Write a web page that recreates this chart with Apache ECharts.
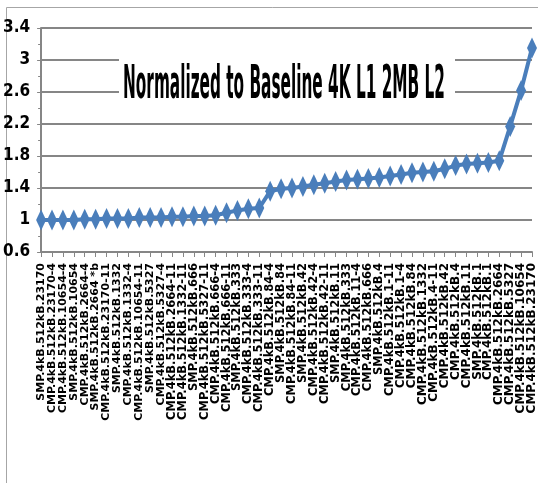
<!DOCTYPE html>
<html>
<head>
<meta charset="utf-8">
<script src="https://cdn.jsdelivr.net/npm/echarts@6/dist/echarts.min.js"></script>
<style>
  html, body { margin: 0; padding: 0; background: #fff; }
  #chart { width: 538px; height: 483px; }
</style>
</head>
<body>
<div id="chart"></div>
<script>
// configurations, left to right, sorted by normalized result
const categories = [
  'SMP.4kB.512kB.23170', 'CMP.4kB.512kB.23170-4', 'CMP.4kB.512kB.10654-4', 'SMP.4kB.512kB.10654',
  'CMP.4kB.512kB.2664-4', 'SMP.4kB.512kB.2664 *b', 'CMP.4kB.512kB.23170-11', 'SMP.4kB.512kB.1332',
  'CMP.4kB.512kB.1332-4', 'CMP.4kB.512kB.10654-11', 'SMP.4kB.512kB.5327', 'CMP.4kB.512kB.5327-4',
  'CMP.4kB.512kB.2664-11', 'CMP.4kB.512kB.1332-11', 'SMP.4kB.512kB.666', 'CMP.4kB.512kB.5327-11',
  'CMP.4kB.512kB.666-4', 'CMP.4kB.512kB.666-11', 'SMP.4kB.512kB.333', 'CMP.4kB.512kB.333-4',
  'CMP.4kB.512kB.333-11', 'CMP.4kB.512kB.84-4', 'SMP.4kB.512kB.84', 'CMP.4kB.512kB.84-11',
  'SMP.4kB.512kB.42', 'CMP.4kB.512kB.42-4', 'CMP.4kB.512kB.42-11', 'SMP.4kB.512kB.11',
  'CMP.4kB.512kB.333', 'CMP.4kB.512kB.11-4', 'CMP.4kB.512kB.666', 'SMP.4kB.512kB.4',
  'CMP.4kB.512kB.1-11', 'CMP.4kB.512kB.1-4', 'CMP.4kB.512kB.84', 'CMP.4kB.512kB.1332',
  'CMP.4kB.512kB.4-11', 'CMP.4kB.512kB.42', 'CMP.4kB.512kB.4', 'CMP.4kB.512kB.11',
  'SMP.4kB.512kB.1', 'CMP.4kB.512kB.1', 'CMP.4kB.512kB.2664', 'CMP.4kB.512kB.5327',
  'CMP.4kB.512kB.10654', 'CMP.4kB.512kB.23170'
]

const normalized = [
  1.00, 1.00, 1.00, 1.00, 1.01, 1.01, 1.02, 1.02, 1.02, 1.03,
  1.03, 1.03, 1.04, 1.04, 1.05, 1.05, 1.06, 1.09, 1.12, 1.14,
  1.15, 1.36, 1.39, 1.40, 1.42, 1.44, 1.46, 1.48, 1.50, 1.51,
  1.52, 1.53, 1.55, 1.57, 1.59, 1.60, 1.61, 1.64, 1.68, 1.70,
  1.71, 1.72, 1.74, 2.17, 2.62, 3.15
]

const yMin = 0.6
const yMax = 3.4
const yStep = 0.4

const titleText = 'Normalized to Baseline 4K L1 2MB L2'
const titleFont = 'bold 46px "Liberation Sans Narrow", "DejaVu Sans Condensed", sans-serif'

// the picture is squashed sideways, so the title is squeezed to its width
function squeeze(text, font, width) {
  const ctx = document.createElement('canvas').getContext('2d')
  ctx.font = font
  return width / ctx.measureText(text).width
}

// in the original the rotated labels get a little longer towards the right
const labelRich = {}
categories.forEach((c, i) => {
  labelRich['s' + i] = {
    fontFamily: 'DejaVu Sans',
    fontWeight: 'bold',
    fontSize: 11 + Math.round(i / (categories.length - 1) * 2) / 2,
    color: '#000'
  }
})

const chart = echarts.init(document.getElementById('chart'))

chart.setOption({
  animation: false,
  backgroundColor: '#fff',
  grid: { left: 36, top: 28, right: 3, bottom: 231, containLabel: false },
  xAxis: {
    type: 'category',
    data: categories,
    boundaryGap: false,
    axisLine: { lineStyle: { color: '#868686', width: 2 } },
    axisTick: { show: true, length: 5, interval: 0, lineStyle: { color: '#868686' } },
    axisLabel: {
      interval: 0,
      rotate: 90,
      margin: 11,
      color: '#000',
      fontFamily: 'DejaVu Sans',
      fontWeight: 'bold',
      fontSize: 11,
      formatter: (v, i) => '{s' + i + '|' + v + '}',
      rich: labelRich
    }
  },
  yAxis: {
    type: 'value',
    min: yMin,
    max: yMax,
    interval: yStep,
    axisLine: { show: true, lineStyle: { color: '#868686', width: 2 } },
    axisTick: { show: true, length: 4, lineStyle: { color: '#868686' } },
    minorTick: { show: true, splitNumber: 2, length: 3, lineStyle: { color: '#868686' } },
    splitLine: { lineStyle: { color: '#868686', width: 2 } },
    axisLabel: {
      margin: 11,
      color: '#000',
      fontFamily: '"Liberation Sans Narrow", "DejaVu Sans Condensed", sans-serif',
      fontWeight: 'bold',
      fontSize: 17
    }
  },
  series: [{
    type: 'line',
    data: normalized,
    color: '#4a7ebb',
    lineStyle: { width: 4, color: '#4a7ebb' },
    symbol: 'diamond',
    symbolSize: [10, 21],
    itemStyle: { color: '#4a7ebb' }
  }],
  graphic: [
    {
      type: 'rect',
      shape: { x: 6.5, y: 7.5, width: 700, height: 700 },
      style: { fill: 'none', stroke: '#a6a6a6', lineWidth: 1 },
      silent: true,
      z: 0
    },
    {
      type: 'rect',
      shape: { x: 119, y: 52, width: 336, height: 58 },
      style: { fill: '#fff' },
      silent: true,
      z: 50
    },
    {
      type: 'text',
      x: 123,
      y: 86,
      scaleX: squeeze(titleText, titleFont, 322),
      style: {
        text: titleText,
        font: titleFont,
        fill: '#000',
        textAlign: 'left',
        textVerticalAlign: 'middle'
      },
      silent: true,
      z: 51
    }
  ]
})
</script>
</body>
</html>
